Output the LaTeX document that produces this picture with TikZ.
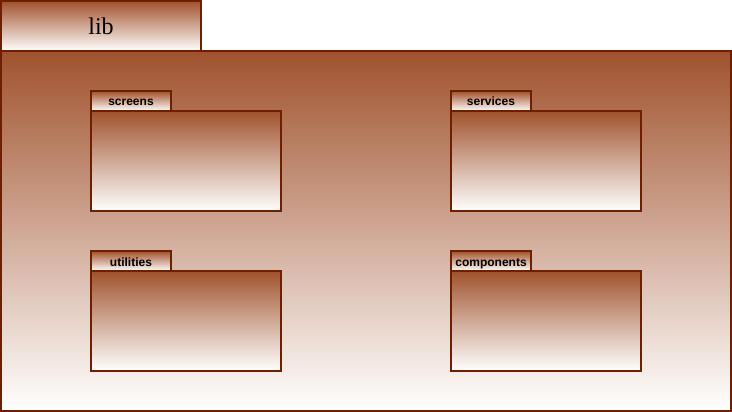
\documentclass[tikz,border=0pt]{standalone}
\usepackage{fontspec}
\setmainfont{Liberation Serif}
\newfontfamily\labelfont{Liberation Sans}
\definecolor{sien}{HTML}{A0522D}
\definecolor{edge}{HTML}{6D1F00}
\begin{document}
\begin{tikzpicture}[x=1pt,y=-1pt,
  pkg/.style={draw=edge, line width=1.6pt, top color=sien, bottom color=white, anchor=north west, inner sep=0pt, outer sep=0pt},
  tablabel/.style={font=\labelfont\bfseries\fontsize{12}{14}\selectfont, text=black, text height=10pt, text depth=0pt}]
\useasboundingbox (0,0) rectangle (732,412);
% outer package
\node[pkg, minimum width=730pt, minimum height=360pt] (libbody) at (1,51) {};
\node[pkg, minimum width=200pt, minimum height=50pt, font=\fontsize{24}{28}\selectfont, text height=18pt, text depth=0pt] (libtab) at (1,1) {lib};
% screens
\node[pkg, minimum width=190pt, minimum height=100pt] (screensbody) at (91,111) {};
\node[pkg, tablabel, minimum width=80pt, minimum height=20pt] (screenstab) at (91,91) {screens};
% services
\node[pkg, minimum width=190pt, minimum height=100pt] (servicesbody) at (451,111) {};
\node[pkg, tablabel, minimum width=80pt, minimum height=20pt] (servicestab) at (451,91) {services};
% utilities
\node[pkg, minimum width=190pt, minimum height=100pt] (utilitiesbody) at (91,271) {};
\node[pkg, tablabel, minimum width=80pt, minimum height=20pt] (utilitiestab) at (91,251) {utilities};
% components
\node[pkg, minimum width=190pt, minimum height=100pt] (componentsbody) at (451,271) {};
\node[pkg, tablabel, minimum width=80pt, minimum height=20pt] (componentstab) at (451,251) {components};
\end{tikzpicture}
\end{document}
